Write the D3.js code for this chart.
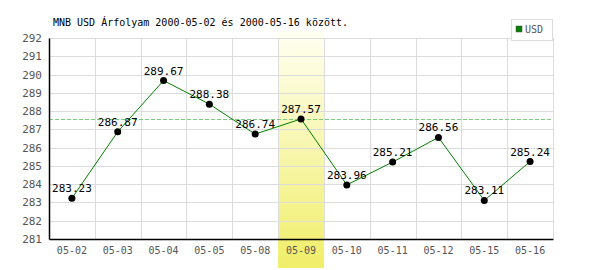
<!DOCTYPE html>
<html>
<head>
<meta charset="utf-8">
<script src="https://cdn.jsdelivr.net/npm/d3@7"></script>
<style>
  body { margin: 0; background: #fff; }
  text { font-family: "DejaVu Sans Mono", monospace; font-size: 10px; }
</style>
</head>
<body>
<div class="canvas"></div>
<script>
// data
var dates = ["05-02","05-03","05-04","05-05","05-08","05-09","05-10","05-11","05-12","05-15","05-16"];
var rates = [283.23, 286.87, 289.67, 288.38, 286.74, 287.57, 283.96, 285.21, 286.56, 283.11, 285.24];
var yTicks = [281,282,283,284,285,286,287,288,289,290,291,292];
var highlightDate = "05-09";
var refValue = 287.57;
var title = "MNB USD Árfolyam 2000-05-02 és 2000-05-16 között.";
var seriesName = "USD";

var W = 600, H = 270;
var margin = {top: 38, right: 47, bottom: 31, left: 49},
    width = W - margin.left - margin.right,
    height = H - margin.top - margin.bottom;

var root = d3.select(".canvas")
    .append("svg")
    .attr("width", W)
    .attr("height", H);

var defs = root.append("defs");
var grad = defs.append("linearGradient")
    .attr("id", "hl")
    .attr("x1", 0).attr("y1", 0).attr("x2", 0).attr("y2", 1);
grad.append("stop").attr("offset", "0%").attr("stop-color", "#fffff2");
grad.append("stop").attr("offset", "100%").attr("stop-color", "#f0ee68");

var svg = root.append("g")
    .attr("transform", `translate(${margin.left},${margin.top})`);

var x = d3.scaleBand().domain(dates).range([0, width]);
var y = d3.scaleLinear().domain([281, 292]).range([height, 0]);

// highlighted day
svg.append("rect")
    .attr("x", x(highlightDate))
    .attr("y", -7)
    .attr("width", x.bandwidth())
    .attr("height", height + 7 + 29)
    .attr("fill", "url(#hl)");

// grid
svg.selectAll(".hgrid")
  .data(yTicks)
  .enter()
  .append("line")
    .attr("x1", 0).attr("x2", width)
    .attr("y1", d => Math.round(y(d)) + 0.5)
    .attr("y2", d => Math.round(y(d)) + 0.5)
    .attr("stroke", "#dcdcdc");

svg.selectAll(".vgrid")
  .data(dates.slice(1).concat(["end"]))
  .enter()
  .append("line")
    .attr("x1", (d, i) => Math.round(i < dates.length - 1 ? x(d) : width) + 0.5)
    .attr("x2", (d, i) => Math.round(i < dates.length - 1 ? x(d) : width) + 0.5)
    .attr("y1", 0).attr("y2", height)
    .attr("stroke", "#dcdcdc");

// reference line
svg.append("line")
    .attr("x1", 0).attr("x2", width)
    .attr("y1", Math.round(y(refValue)) + 0.5)
    .attr("y2", Math.round(y(refValue)) + 0.5)
    .attr("stroke", "#7dcc7d")
    .attr("stroke-dasharray", "4,2");

// axes
var yAxis = svg.append("g")
    .call(d3.axisLeft(y).tickValues(yTicks).tickSize(0).tickPadding(7).tickFormat(d3.format("d")));
yAxis.select(".domain").attr("stroke", "#000").attr("stroke-width", 1.5);
yAxis.selectAll("text").attr("fill", "#555").style("font-size", "11px");

var xAxis = svg.append("g")
    .attr("transform", `translate(0,${height})`)
    .call(d3.axisBottom(x).tickSize(0).tickPadding(8));
xAxis.select(".domain").attr("stroke", "#000").attr("stroke-width", 1.5);
xAxis.selectAll("text").attr("fill", "#555").style("font-size", "10px");

// line
var line = d3.line()
    .x((d, i) => x(dates[i]) + x.bandwidth() / 2)
    .y(d => y(d));
svg.append("path")
    .datum(rates)
    .attr("d", line)
    .attr("fill", "none")
    .attr("stroke", "#008000")
    .attr("stroke-width", 1);

// points
svg.selectAll(".pt")
  .data(rates)
  .enter()
  .append("circle")
    .attr("cx", (d, i) => x(dates[i]) + x.bandwidth() / 2)
    .attr("cy", d => y(d))
    .attr("r", 3.5)
    .attr("fill", "#000");

// value labels
svg.selectAll(".lbl")
  .data(rates)
  .enter()
  .append("text")
    .attr("x", (d, i) => x(dates[i]) + x.bandwidth() / 2)
    .attr("y", d => y(d) - 6)
    .attr("text-anchor", "middle")
    .attr("fill", "#000")
    .style("font-size", "11px")
    .text(d => d.toFixed(2));

// title
root.append("text")
    .attr("x", 53)
    .attr("y", 26)
    .attr("fill", "#000")
    .text(title);

// legend
var leg = root.append("g").attr("transform", "translate(511,19)");
leg.append("rect")
    .attr("x", 0.5).attr("y", 0.5)
    .attr("width", 41).attr("height", 21)
    .attr("fill", "#fff")
    .attr("stroke", "#dcdcdc");
leg.append("rect")
    .attr("x", 5).attr("y", 7)
    .attr("width", 6).attr("height", 6)
    .attr("fill", "#008000")
    .attr("stroke", "#555")
    .attr("stroke-width", 0.5);
leg.append("text")
    .attr("x", 14).attr("y", 14)
    .attr("fill", "#555")
    .text(seriesName);
</script>
</body>
</html>
